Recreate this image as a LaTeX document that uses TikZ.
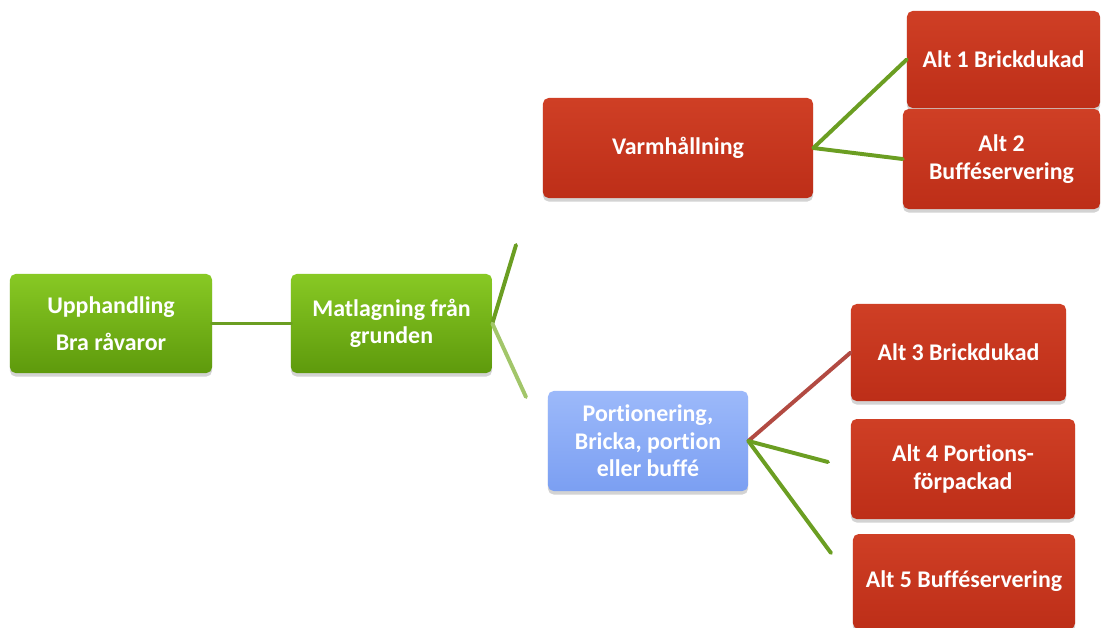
\documentclass[tikz,border=0pt]{standalone}
\usepackage{fontspec}
\setmainfont{Carlito}[Ligatures=NoCommon]
\usetikzlibrary{shadows}
\definecolor{gtop}{HTML}{88C924}
\definecolor{gbot}{HTML}{5E9A0C}
\definecolor{rtop}{HTML}{CF3F25}
\definecolor{rbot}{HTML}{BD2E18}
\definecolor{btop}{HTML}{9CB9FA}
\definecolor{bbot}{HTML}{7B9FF2}
\definecolor{linkgreen}{HTML}{6B9E22}
\definecolor{linklight}{HTML}{A2C66A}
\definecolor{linkred}{HTML}{B24A42}
\begin{document}
\begin{tikzpicture}[x=0.025cm, y=-0.025cm, font=\fontsize{17}{19.5}\selectfont\bfseries, line cap=round,
		box/.style={rounded corners=4pt, text=white, align=center, inner sep=0pt,
			drop shadow={shadow xshift=0pt, shadow yshift=-2.5pt, opacity=0.35}},
		greenbox/.style={box, top color=gtop, bottom color=gbot},
		redbox/.style={box, top color=rtop, bottom color=rbot},
		bluebox/.style={box, top color=btop, bottom color=bbot},
		link/.style={line width=2.8pt, linkgreen}]
	\useasboundingbox (0,0) rectangle (1102,627);
	% left chain
	\node[greenbox, minimum width=5.05cm, minimum height=2.475cm] (upph) at (111,323.5) {Upphandling\\[7pt]Bra råvaror};
	\node[greenbox, minimum width=5.025cm, minimum height=2.475cm] (matl) at (391.5,323.5) {Matlagning från\\grunden};
	% upper branch
	\node[redbox, minimum width=6.75cm, minimum height=2.5cm] (varm) at (678,148) {Varmhållning};
	\node[redbox, minimum width=4.825cm, minimum height=2.425cm] (alt1) at (1003.5,59.5) {Alt 1 Brickdukad};
	\node[redbox, minimum width=4.925cm, minimum height=2.5cm] (alt2) at (1001.5,159) {Alt 2\\Bufféservering};
	% lower branch
	\node[bluebox, minimum width=5cm, minimum height=2.5cm] (port) at (648,441) {Portionering,\\Bricka, portion\\eller buffé};
	\node[redbox, minimum width=5.375cm, minimum height=2.425cm] (alt3) at (958.5,352.5) {Alt 3 Brickdukad};
	\node[redbox, minimum width=5.6cm, minimum height=2.5cm] (alt4) at (963,469) {Alt 4 Portions-\\förpackad};
	\node[redbox, minimum width=5.55cm, minimum height=2.375cm] (alt5) at (964,581.5) {Alt 5 Bufféservering};
	% free ends
	\coordinate (mup) at (516,245);
	\coordinate (mdown) at (526,397);
	\coordinate (pmid) at (828,462);
	\coordinate (plow) at (831,553);
	% connectors
	\draw[link] (upph) -- (matl);
	\draw[link] (matl.east) -- (mup);
	\draw[link, linklight] (matl.east) -- (mdown);
	\draw[link] (varm.east) -- (alt1.west);
	\draw[link] (varm.east) -- (alt2.west);
	\draw[link, linkred] (port.east) -- (alt3.west);
	\draw[link] (port.east) -- (pmid);
	\draw[link] (port.east) -- (plow);
\end{tikzpicture}
\end{document}
